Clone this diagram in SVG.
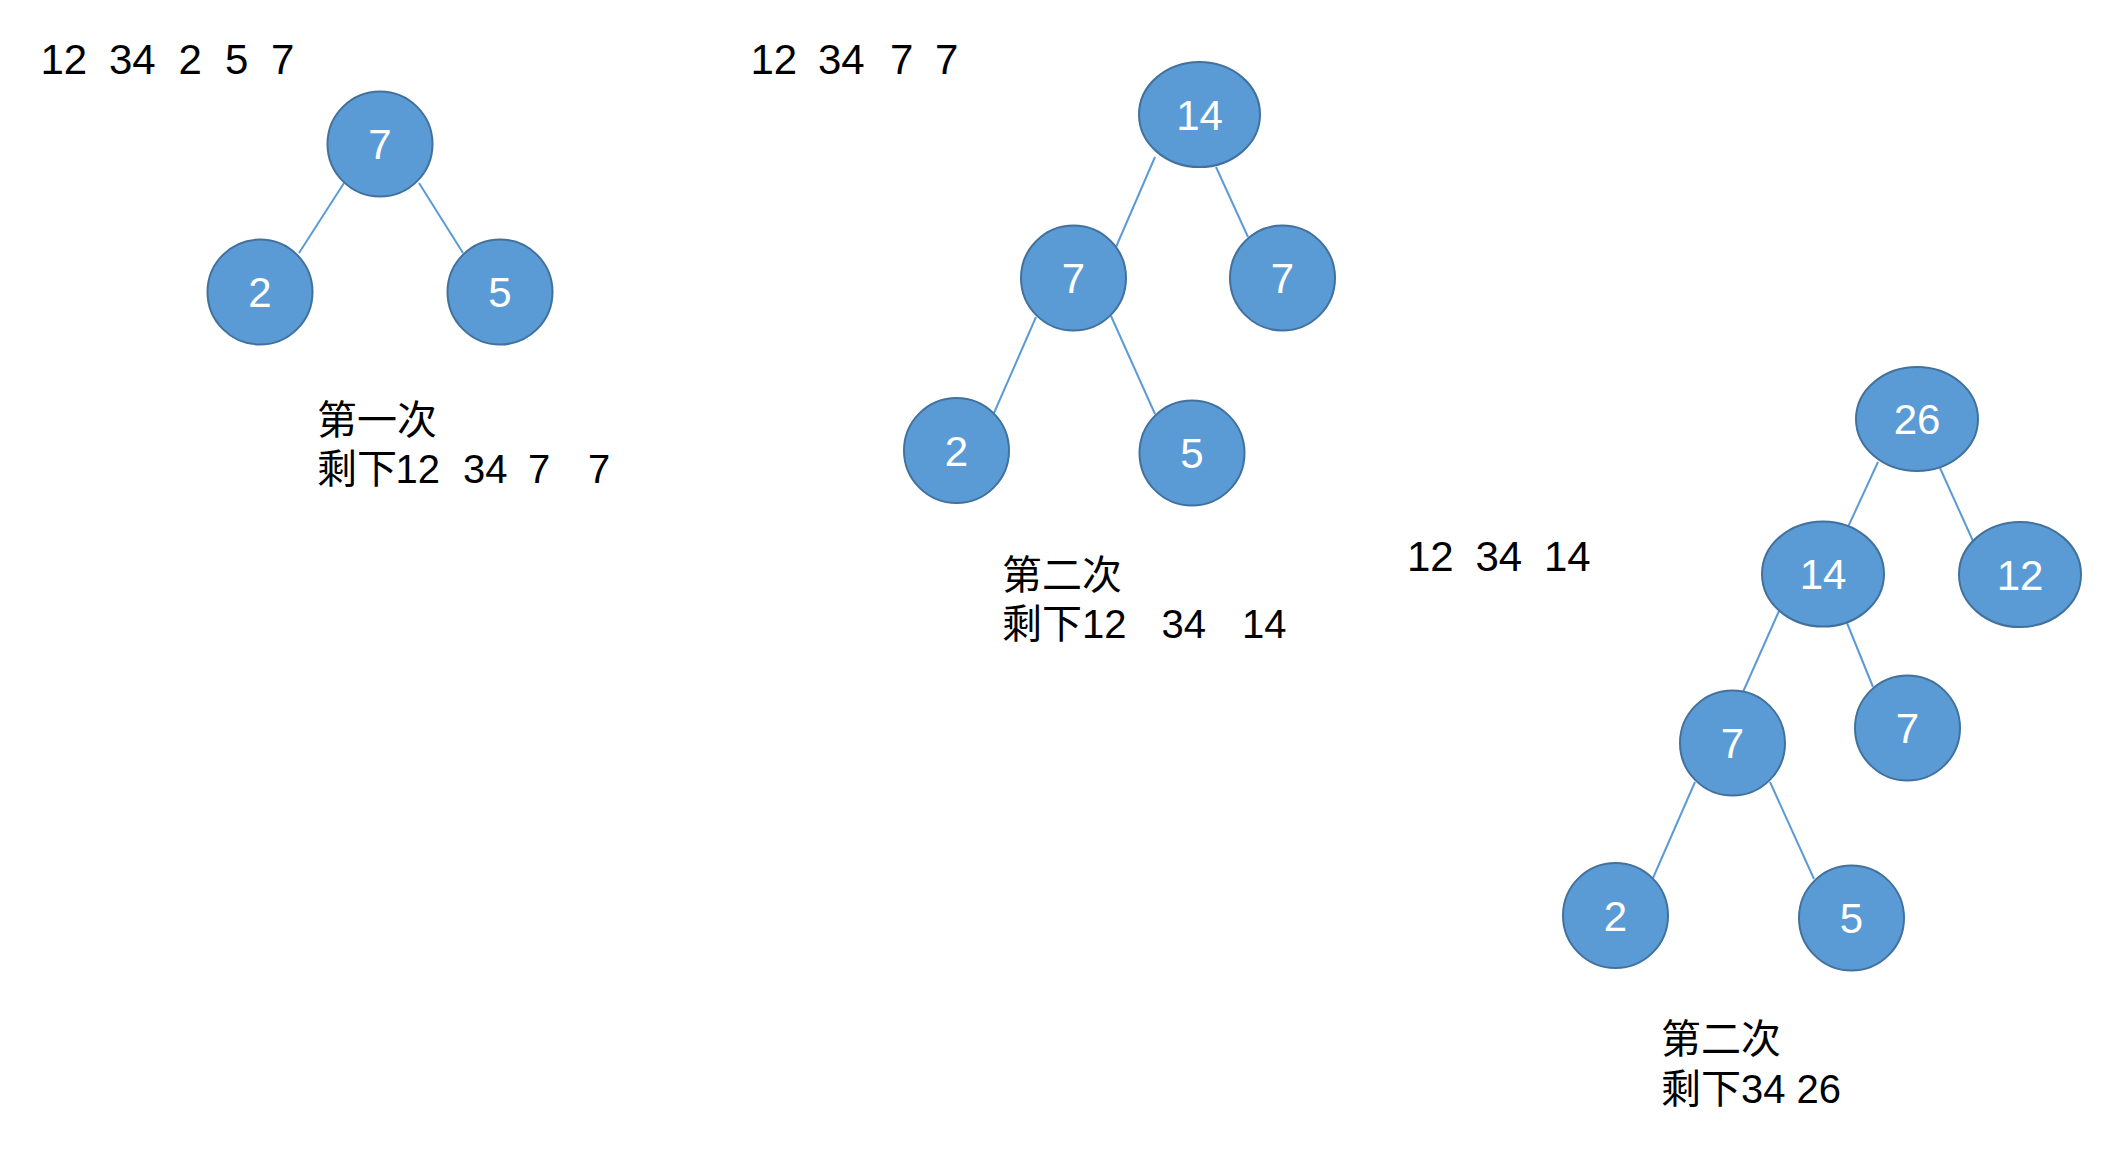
<svg xmlns="http://www.w3.org/2000/svg" width="2118" height="1152" viewBox="0 0 2118 1152">
<style>
.node{fill:#5B9BD5;stroke:#41719C;stroke-width:2}
.nt{font-family:"Liberation Sans",Arial,sans-serif;font-size:42px;fill:#ffffff;text-anchor:middle}
.edge{stroke:#5B9BD5;stroke-width:2;fill:none}
.num{font-family:"Liberation Sans",Arial,sans-serif;font-size:42px;fill:#000000}
.lbl{font-family:"Liberation Sans","Noto Sans CJK SC",sans-serif;font-size:40px;fill:#000000}
</style>
<rect width="2118" height="1152" fill="#ffffff"/>
<g id="connectors">
<line class="edge" x1="344" y1="183" x2="299" y2="253"/>
<line class="edge" x1="419" y1="183" x2="463" y2="253"/>
<line class="edge" x1="1155" y1="157" x2="1116" y2="247"/>
<line class="edge" x1="1216" y1="167" x2="1248" y2="237"/>
<line class="edge" x1="1036" y1="317" x2="994" y2="413"/>
<line class="edge" x1="1111" y1="316" x2="1155" y2="414"/>
<line class="edge" x1="1878" y1="462" x2="1848" y2="527"/>
<line class="edge" x1="1940" y1="468" x2="1973" y2="541"/>
<line class="edge" x1="1779" y1="611" x2="1743" y2="692"/>
<line class="edge" x1="1847" y1="623" x2="1873" y2="687"/>
<line class="edge" x1="1695" y1="782" x2="1653" y2="878"/>
<line class="edge" x1="1770" y1="782" x2="1814" y2="879"/>
</g>
<g id="t1-n7"><circle class="node" cx="380" cy="144" r="52.5"/><text class="nt" x="380" y="159">7</text></g>
<g id="t1-n2"><circle class="node" cx="260" cy="292" r="52.5"/><text class="nt" x="260" y="307">2</text></g>
<g id="t1-n5"><circle class="node" cx="500" cy="292" r="52.5"/><text class="nt" x="500" y="307">5</text></g>
<g id="t2-n14"><ellipse class="node" cx="1199.5" cy="114.5" rx="60.5" ry="52.5"/><text class="nt" x="1199.5" y="129.5">14</text></g>
<g id="t2-n7a"><circle class="node" cx="1073.5" cy="278" r="52.5"/><text class="nt" x="1073.5" y="293">7</text></g>
<g id="t2-n7b"><circle class="node" cx="1282.5" cy="278" r="52.5"/><text class="nt" x="1282.5" y="293">7</text></g>
<g id="t2-n2"><circle class="node" cx="956.5" cy="450.5" r="52.5"/><text class="nt" x="956.5" y="465.5">2</text></g>
<g id="t2-n5"><circle class="node" cx="1192" cy="453" r="52.5"/><text class="nt" x="1192" y="468">5</text></g>
<g id="t3-n26"><ellipse class="node" cx="1917" cy="419" rx="61" ry="52"/><text class="nt" x="1917" y="434">26</text></g>
<g id="t3-n14"><ellipse class="node" cx="1823" cy="574" rx="61" ry="52.5"/><text class="nt" x="1823" y="589">14</text></g>
<g id="t3-n12"><ellipse class="node" cx="2020" cy="574.5" rx="61" ry="52.5"/><text class="nt" x="2020" y="589.5">12</text></g>
<g id="t3-n7a"><circle class="node" cx="1732.5" cy="743" r="52.5"/><text class="nt" x="1732.5" y="758">7</text></g>
<g id="t3-n7b"><circle class="node" cx="1907.5" cy="728" r="52.5"/><text class="nt" x="1907.5" y="743">7</text></g>
<g id="t3-n2"><circle class="node" cx="1615.5" cy="915.5" r="52.5"/><text class="nt" x="1615.5" y="930.5">2</text></g>
<g id="t3-n5"><circle class="node" cx="1851.5" cy="918" r="52.5"/><text class="nt" x="1851.5" y="933">5</text></g>
<g id="texts">
<text class="num" y="74"><tspan x="40.5">12</tspan><tspan x="109">34</tspan><tspan x="178.5">2</tspan><tspan x="225">5</tspan><tspan x="271">7</tspan></text>
<text class="num" y="74"><tspan x="750.5">12</tspan><tspan x="818">34</tspan><tspan x="890">7</tspan><tspan x="935">7</tspan></text>
<text class="num" y="571"><tspan x="1407">12</tspan><tspan x="1475.5">34</tspan><tspan x="1544">14</tspan></text>
<text class="lbl" x="317" y="434">第一次</text>
<text class="lbl" y="483"><tspan x="317">剩下</tspan><tspan x="395.6">12</tspan><tspan x="463">34</tspan><tspan x="528">7</tspan><tspan x="588">7</tspan></text>
<text class="lbl" x="1002" y="589">第二次</text>
<text class="lbl" y="638"><tspan x="1002">剩下</tspan><tspan x="1082">12</tspan><tspan x="1161.5">34</tspan><tspan x="1242">14</tspan></text>
<text class="lbl" x="1661" y="1053">第二次</text>
<text class="lbl" x="1661" y="1103">剩下34 26</text>
</g>
</svg>
